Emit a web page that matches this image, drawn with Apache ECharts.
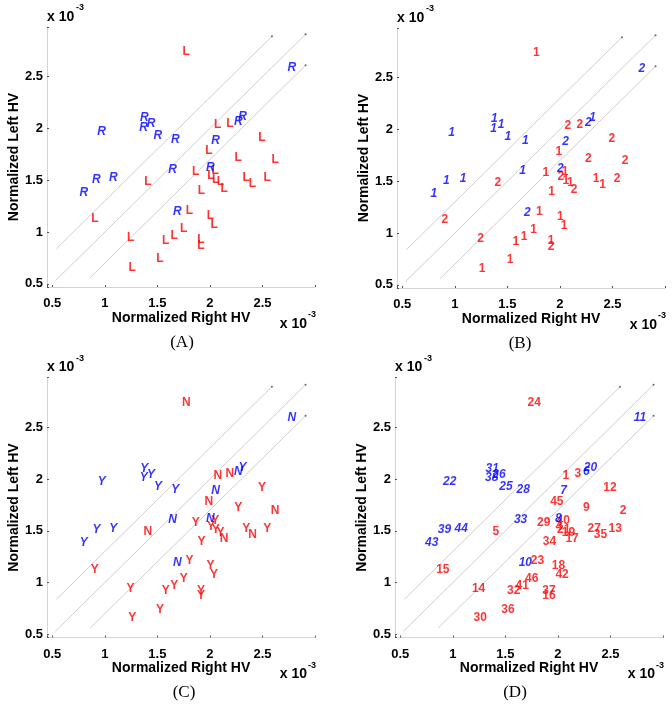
<!DOCTYPE html>
<html><head><meta charset="utf-8">
<script src="https://cdn.jsdelivr.net/npm/echarts@6/dist/echarts.min.js"></script>
<style>html,body{margin:0;padding:0;background:#fff}#c{width:672px;height:707px}</style>
</head><body><div id="c"></div>
<script>
// ---- data (values in units of 1e-3) ----
const ids = [1,2,3,4,5,6,7,8,9,10,11,12,13,14,15,16,17,18,19,20,21,22,23,24,25,26,27,28,29,30,31,32,33,34,35,36,37,38,39,40,41,42,43,44,45,46];
const rightHV = [2.075,2.62,2.19,2.01,1.41,2.27,2.055,2.005,2.27,1.69,2.78,2.495,2.545,1.245,0.905,1.915,2.135,2.005,2.10,2.31,2.056,0.97,1.805,1.775,1.505,1.44,2.345,1.67,1.865,1.26,1.375,1.58,1.645,1.92,2.405,1.525,1.915,1.37,0.92,2.05,1.66,2.04,0.80,1.08,1.99,1.75];
const leftHV  = [2.035,1.695,2.05,1.54,1.49,2.07,1.885,1.62,1.722,1.195,2.59,1.915,1.525,0.942,1.125,0.87,1.42,1.162,1.485,2.11,1.51,1.97,1.21,2.74,1.93,2.045,1.525,1.895,1.58,0.657,2.10,0.918,1.605,1.395,1.467,0.743,0.925,2.01,1.51,1.595,0.968,1.075,1.385,1.525,1.785,1.033];
const sideClass = ['L','L','L','L','L','R','R','R','L','R','R','L','L','L','L','L','L','L','L','R','L','R','L','L','R','R','L','R','L','L','R','L','R','L','L','L','L','R','R','L','L','L','R','R','L','L'];
const groupB = ['2','2','2','2','2','2','2','2','2','2','2','2','2','2','2','2','2','1','1','1','1','1','1','1','1','1','1','1','1','1','1','1','1','1','1','1','1','1','1','1','1','1','1','1','1','1'];
const groupC = ['N','N','N','Y','N','N','N','N','Y','N','N','Y','Y','Y','Y','Y','N','Y','Y','Y','Y','Y','Y','N','Y','Y','Y','Y','Y','Y','Y','Y','N','Y','N','Y','Y','Y','Y','Y','Y','Y','Y','Y','N','Y'];
const tickValues = [0.5,1,1.5,2,2.5];
const tickLabels = ['0.5','1','1.5','2','2.5'];
const captions = ['(A)','(B)','(C)','(D)'];
const xTitle = 'Normalized Right HV';
const yTitle = 'Normalized Left HV';
const expText = 'x 10';
const expSup = '-3';
const refMid = [[0.53,0.53],[2.91,2.91]];
const refUpper = [[0.54,0.84],[2.59,2.89]];
const refLower = [[0.86,0.56],[2.91,2.61]];

// ---- layout ----
const panels = [
  {dx:0, dy:0, cap:[182,343]},
  {dx:350, dy:1, cap:[520,344]},
  {dx:0, dy:350.5, cap:[184,693]},
  {dx:348, dy:350.5, cap:[515,693]}
];
const GL = 47, GT = 27, GW = 268, GH = 260;
const FONT = '"Liberation Sans", Arial, sans-serif';
const labelSets = [sideClass, groupB, groupC, ids.map(String)];

const grids = [], xAxes = [], yAxes = [], series = [], graphics = [];
const fmt = v => { const i = tickValues.indexOf(+(+v).toFixed(2)); return i >= 0 ? tickLabels[i] : ''; };

function makeAxis(k, extra, margin) {
  return Object.assign({
    type: 'value', gridIndex: k, splitNumber: 5,
    axisLine: {show: true, lineStyle: {color: '#d4d4d4', width: 1}},
    axisTick: {show: true, inside: true, length: 2, lineStyle: {color: '#555'}},
    splitLine: {show: false},
    axisLabel: {show: true, formatter: fmt, margin: margin,
      color: '#000', fontSize: 13, fontWeight: 'bold', fontFamily: FONT},
    nameLocation: 'middle',
    nameTextStyle: {color: '#000', fontSize: 14, fontWeight: 'bold', fontFamily: FONT}
  }, extra);
}

panels.forEach((p, k) => {
  grids.push({left: GL + p.dx, top: GT + p.dy, width: GW, height: GH});
  xAxes.push(makeAxis(k, {min: 0.45, max: 3.0, name: xTitle, nameGap: 22}, 10));
  yAxes.push(makeAxis(k, {min: 0.47, max: 2.98, name: yTitle, nameGap: 24}, 4));

  [refUpper, refMid, refLower].forEach(ln => {
    series.push({
      type: 'line', xAxisIndex: k, yAxisIndex: k, silent: true, z: 1,
      data: [{value: ln[0], symbol: 'none'}, {value: ln[1], symbol: 'circle', symbolSize: 2}],
      showSymbol: true, itemStyle: {color: '#666'},
      lineStyle: {color: '#cfcfcf', width: 1}
    });
  });

  const labels = labelSets[k];
  ['L', 'R'].forEach(cls => {
    const isBlue = cls === 'R';
    const data = [];
    ids.forEach((id, i) => {
      if (sideClass[i] === cls) data.push({value: [rightHV[i], leftHV[i]], name: labels[i]});
    });
    series.push({
      type: 'scatter', xAxisIndex: k, yAxisIndex: k, silent: true, z: 3,
      symbol: 'circle', symbolSize: 1, itemStyle: {color: 'rgba(0,0,0,0)'},
      data: data,
      label: {show: true, position: 'inside', formatter: '{b}',
        color: isBlue ? '#0000ff' : '#ff0000', fontSize: 12, fontWeight: 700,
        fontStyle: isBlue ? 'italic' : 'normal', fontFamily: FONT},
      labelLayout: {hideOverlap: false}
    });
  });

  graphics.push({type: 'text', x: 47 + p.dx, y: 17 + p.dy,
    style: {text: expText, fill: '#000', font: 'bold 14px ' + FONT, align: 'left', verticalAlign: 'middle'}});
  graphics.push({type: 'text', x: 76 + p.dx, y: 8 + p.dy,
    style: {text: expSup, fill: '#000', font: 'bold 9px ' + FONT, align: 'left', verticalAlign: 'middle'}});
  graphics.push({type: 'text', x: 307 + p.dx, y: 324 + p.dy,
    style: {text: expText, fill: '#000', font: 'bold 14px ' + FONT, align: 'right', verticalAlign: 'middle'}});
  graphics.push({type: 'text', x: 308 + p.dx, y: 315 + p.dy,
    style: {text: expSup, fill: '#000', font: 'bold 9px ' + FONT, align: 'left', verticalAlign: 'middle'}});
  graphics.push({type: 'text', x: p.cap[0], y: p.cap[1],
    style: {text: captions[k], fill: '#000', font: '17px "Liberation Serif", "Times New Roman", serif', align: 'center', verticalAlign: 'middle'}});
});

const chart = echarts.init(document.getElementById('c'), null, {renderer: 'canvas'});
chart.setOption({
  animation: false,
  backgroundColor: '#fff',
  grid: grids, xAxis: xAxes, yAxis: yAxes, series: series, graphic: graphics
});
</script></body></html>
